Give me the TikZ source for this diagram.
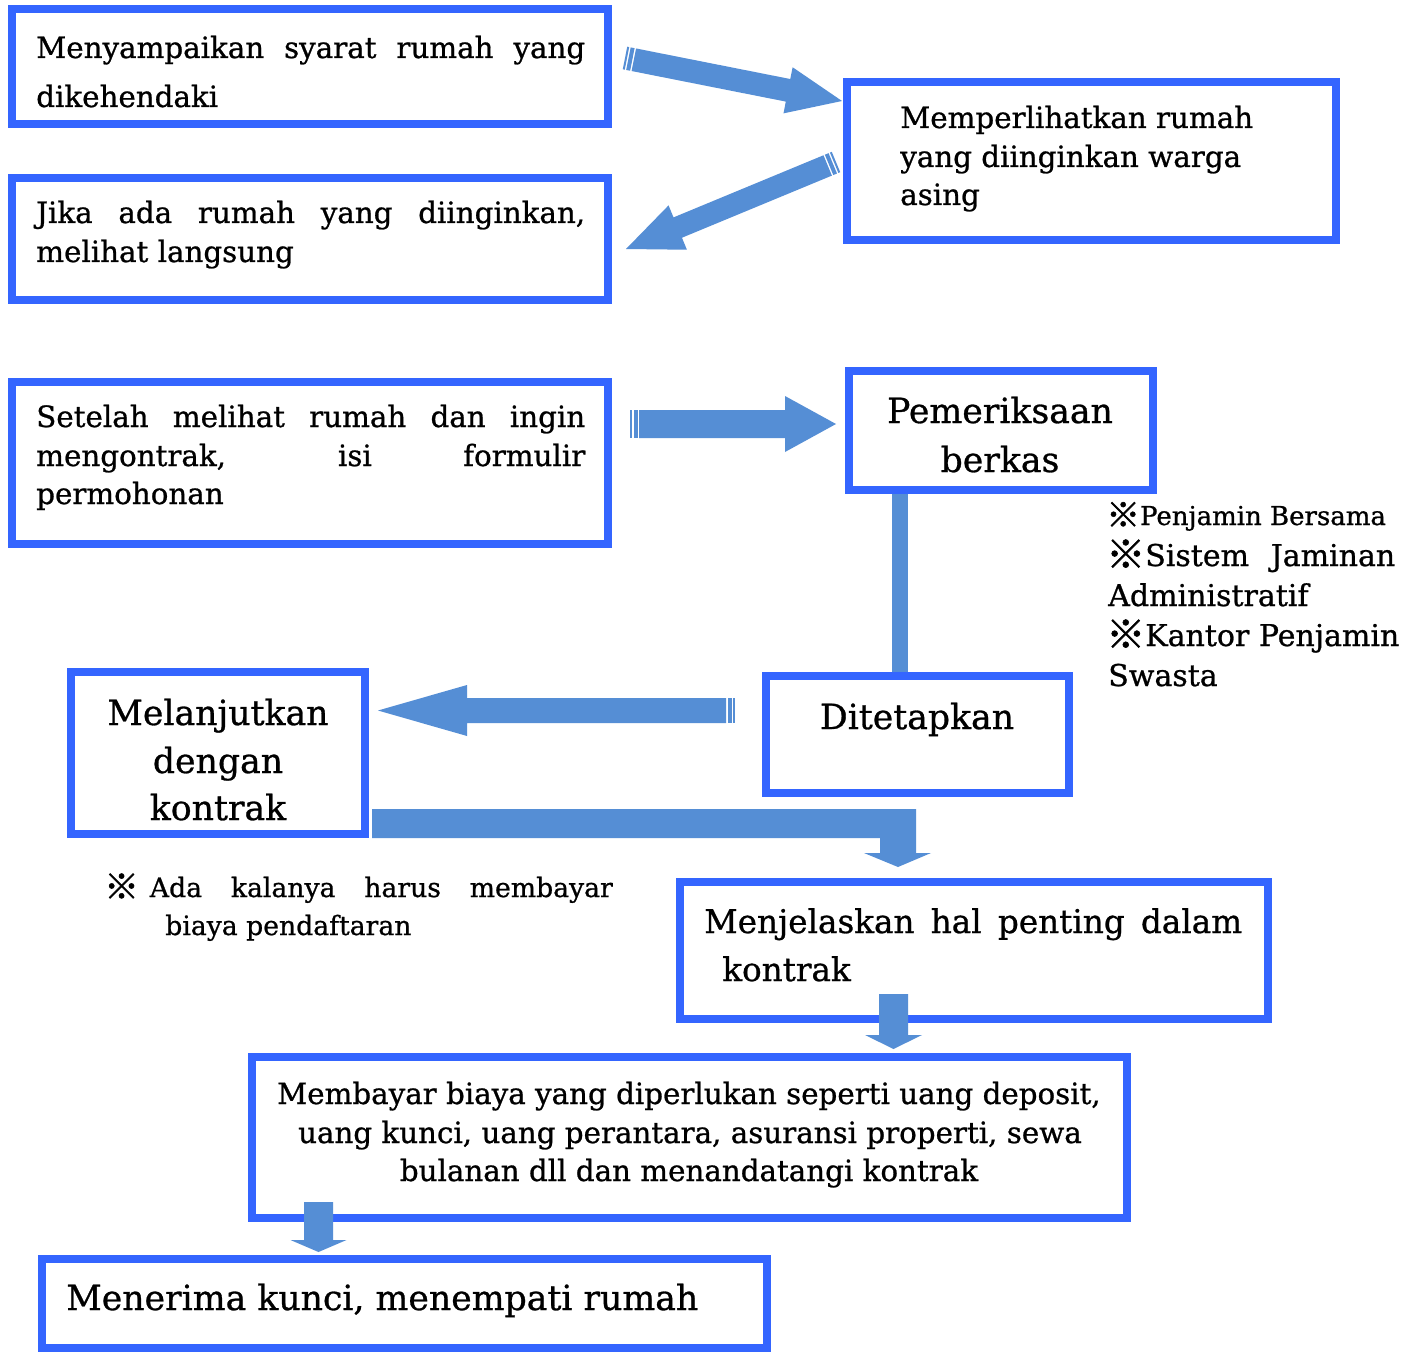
\documentclass[tikz,border=0pt]{standalone}
\usepackage{fontspec}
\usepackage{graphicx}
\setmainfont{DejaVu Serif}[FakeBold=0.8]
\newfontfamily\cjk{Noto Sans CJK JP}[FakeBold=1.5]
\usetikzlibrary{calc}
\definecolor{boxblue}{RGB}{52,101,255}
\definecolor{arrblue}{RGB}{85,142,213}
\newcommand\refmark{\raisebox{-0.08em}{\scalebox{1.3}{\cjk ※}}}
\newcommand\fsbody{\fontsize{22}{26}\selectfont}
\newcommand\fsbig{\fontsize{26}{30}\selectfont}
\newcommand\fsmid{\fontsize{24.5}{28}\selectfont}
\newcommand\fsnote{\fontsize{20}{24}\selectfont}
\newcommand\fsside{\fontsize{22.5}{26}\selectfont}
\newcommand\fssmall{\fontsize{19.5}{23}\selectfont}
\newcommand\jline[2]{\makebox[#1\dimexpr0.75pt\relax][s]{#2}}
% block arrow: #1 tail, #2 tip, #3 shaft half width, #4 head half width, #5 head length (px)
\newcommand\barrow[5]{%
  \coordinate (#1h) at ($(#2)!{#5*0.75pt}!(#1)$);
  \fill[arrblue] ($(#1)!{#3*0.75pt}!90:(#2)$) -- ($(#1h)!{#3*0.75pt}!90:(#2)$) -- ($(#1h)!{#4*0.75pt}!90:(#2)$) -- (#2) -- ($(#1h)!{#4*0.75pt}!-90:(#2)$) -- ($(#1h)!{#3*0.75pt}!-90:(#2)$) -- ($(#1)!{#3*0.75pt}!-90:(#2)$) -- cycle;}
% striped block arrow
\newcommand\sbarrow[5]{%
  \coordinate (#1a) at ($(#1)!{2*0.75pt}!(#2)$);
  \coordinate (#1b) at ($(#1)!{3.5*0.75pt}!(#2)$);
  \coordinate (#1c) at ($(#1)!{7.5*0.75pt}!(#2)$);
  \coordinate (#1d) at ($(#1)!{9*0.75pt}!(#2)$);
  \coordinate (#1h) at ($(#2)!{#5*0.75pt}!(#1)$);
  \fill[arrblue] ($(#1d)!{#3*0.75pt}!90:(#2)$) -- ($(#1h)!{#3*0.75pt}!90:(#2)$) -- ($(#1h)!{#4*0.75pt}!90:(#2)$) -- (#2) -- ($(#1h)!{#4*0.75pt}!-90:(#2)$) -- ($(#1h)!{#3*0.75pt}!-90:(#2)$) -- ($(#1d)!{#3*0.75pt}!-90:(#2)$) -- cycle;
  \fill[arrblue] ($(#1)!{#3*0.75pt}!90:(#2)$) -- ($(#1a)!{#3*0.75pt}!90:(#2)$) -- ($(#1a)!{#3*0.75pt}!-90:(#2)$) -- ($(#1)!{#3*0.75pt}!-90:(#2)$) -- cycle;
  \fill[arrblue] ($(#1b)!{#3*0.75pt}!90:(#2)$) -- ($(#1c)!{#3*0.75pt}!90:(#2)$) -- ($(#1c)!{#3*0.75pt}!-90:(#2)$) -- ($(#1b)!{#3*0.75pt}!-90:(#2)$) -- cycle;}
\begin{document}
\begin{tikzpicture}[x=0.75pt,y=-0.75pt,
  box/.style={draw=boxblue, line width=6pt, inner sep=0pt, fill=none},
  txt/.style={inner sep=0pt, anchor=base west, font=\fsbody},
  ctxt/.style={inner sep=0pt, anchor=base, font=\fsbody},
  big/.style={inner sep=0pt, anchor=base, font=\fsbig},
  conn/.style={draw=arrblue, line width=12pt}]
\useasboundingbox (0,0) rectangle (1414,1355);
\fill[white] (0,0) rectangle (1414,1355);

% connector between Pemeriksaan and Ditetapkan (drawn under boxes)
\coordinate (vx) at (900,0);
\node[box, minimum width=304*0.75pt, minimum height=119*0.75pt] (b5) at (1001,430.5) {};
\node[box, minimum width=303*0.75pt, minimum height=117*0.75pt] (b7) at (917.5,734.5) {};
\draw[conn] (b5.south -| vx) -- (b7.north -| vx);

% boxes
\node[box, minimum width=596*0.75pt, minimum height=115*0.75pt] (b1) at (310,66.5) {};
\node[box, minimum width=489*0.75pt, minimum height=158*0.75pt] (b2) at (1091.5,161) {};
\node[box, minimum width=596*0.75pt, minimum height=122*0.75pt] (b3) at (310,239) {};
\node[box, minimum width=596*0.75pt, minimum height=162*0.75pt] (b4) at (310,463) {};
\node[box, minimum width=304*0.75pt, minimum height=119*0.75pt] at (b5) {};
\node[box, minimum width=303*0.75pt, minimum height=117*0.75pt] at (b7) {};
\node[box, minimum width=294*0.75pt, minimum height=162*0.75pt] (b6) at (218,753) {};
\node[box, minimum width=588*0.75pt, minimum height=137*0.75pt] (b8) at (974,950.5) {};
\node[box, minimum width=875*0.75pt, minimum height=161*0.75pt] (b9) at (689.5,1137.5) {};
\node[box, minimum width=725*0.75pt, minimum height=89*0.75pt] (b10) at (404.5,1303.5) {};

% texts
\node[txt] (t1a) at (36,58) {\jline{549}{Menyampaikan syarat rumah yang}};
\node[txt] (t1b) at (36,107) {dikehendaki};
\node[txt] (t2a) at (900,128) {Memperlihatkan rumah};
\node[txt] (t2b) at (900,167) {yang diinginkan warga};
\node[txt] (t2c) at (900,205) {asing};
\node[txt] (t3a) at (36,223) {\jline{549}{Jika ada rumah yang diinginkan,}};
\node[txt] (t3b) at (36,262) {melihat langsung};
\node[txt] (t4a) at (36,427) {\jline{549}{Setelah melihat rumah dan ingin}};
\node[txt] (t4b) at (36,466) {\jline{549}{mengontrak, isi formulir}};
\node[txt] (t4c) at (36,504) {permohonan};
\node[big] (t5a) at (1000,423) {Pemeriksaan};
\node[big] (t5b) at (1000,472) {berkas};
\node[big] (t7) at (917,729) {Ditetapkan};
\node[big] (t6a) at (218,725) {Melanjutkan};
\node[big] (t6b) at (218,773) {dengan};
\node[big] (t6c) at (218,820) {kontrak};
\node[txt, font=\fsmid] (t8a) at (704,933) {\jline{538}{Menjelaskan hal penting dalam}};
\node[txt, font=\fsmid] (t8b) at (722,981) {kontrak};
\node[ctxt] (t9a) at (689,1104) {Membayar biaya yang diperlukan seperti uang deposit,};
\node[ctxt] (t9b) at (690,1143) {uang kunci, uang perantara, asuransi properti, sewa};
\node[ctxt] (t9c) at (689,1181) {bulanan dll dan menandatangi kontrak};
\node[txt, font=\fsbig] (t10) at (66,1310) {Menerima kunci, menempati rumah};

\node[txt, font=\fssmall] (n1) at (1106,525) {\refmark Penjamin Bersama};
\node[txt, font=\fsside] (n2) at (1106,566) {\jline{289}{\refmark Sistem Jaminan}};
\node[txt, font=\fsside] (n3) at (1108,606) {Administratif};
\node[txt, font=\fsside] (n4) at (1106,646) {\refmark Kantor Penjamin};
\node[txt, font=\fsside] (n5) at (1108,686) {Swasta};
\node[txt, font=\fsnote] (m1) at (104,897) {\refmark\kern0.41em\jline{463}{Ada kalanya harus membayar}};
\node[txt, font=\fsnote] (m2) at (165,935) {biaya pendaftaran};

% block arrows
\coordinate (a1t) at (625,58);
\coordinate (a1p) at (842,101);
\sbarrow{a1t}{a1p}{11.5}{23.5}{55}
\coordinate (a2t) at (836,162);
\coordinate (a2p) at (626,249);
\sbarrow{a2t}{a2p}{11}{24}{56}
\coordinate (a3t) at (630,424);
\coordinate (a3p) at (836,424);
\sbarrow{a3t}{a3p}{14}{28}{51}
\coordinate (a4t) at (735,710.5);
\coordinate (a4p) at (378,710.5);
\sbarrow{a4t}{a4p}{12.5}{25.5}{89}
\coordinate (a6t) at (893.5,994);
\coordinate (a6p) at (893.5,1049);
\barrow{a6t}{a6p}{14.5}{28.5}{14}
\coordinate (a7t) at (318.5,1202);
\coordinate (a7p) at (318.5,1252);
\barrow{a7t}{a7p}{14.5}{28}{12}

% bent arrow from Melanjutkan to Menjelaskan
\coordinate (a5t) at (372,809);
\coordinate (a5p) at (898,867);
\fill[arrblue] (a5t) -- (916,809) -- (916,853) -- (931,853) -- (a5p) -- (864,853) -- (880,853) -- (880,838) -- (372,838) -- cycle;
\end{tikzpicture}
\end{document}
